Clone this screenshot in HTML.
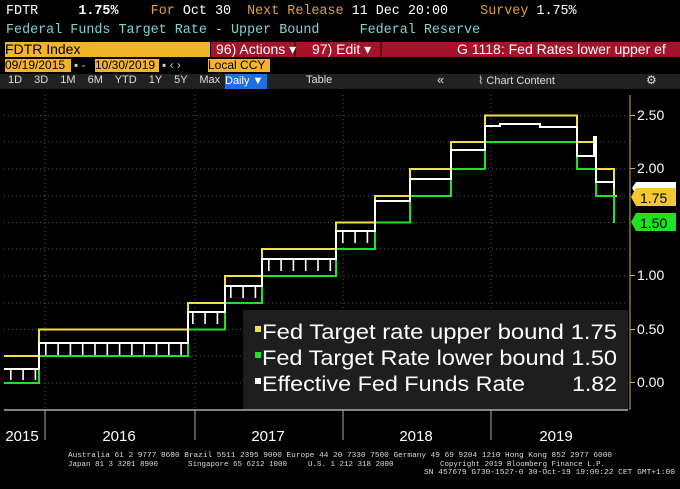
<!DOCTYPE html>
<html><head><meta charset="utf-8"><style>
body{margin:0;background:#000;width:680px;height:489px;overflow:hidden;position:relative;font-family:"Liberation Sans",sans-serif}
.m{font-family:"Liberation Mono",monospace;font-size:13.4px;position:absolute;white-space:pre}
.a{position:absolute;white-space:nowrap}
</style></head><body>
<div class="m" style="left:6px;top:4px;color:#fff">FDTR     <b>1.75%</b>    <span style="color:#e0a040">For</span> Oct 30  <span style="color:#e0a040">Next Release</span> 11 Dec 20:00    <span style="color:#e0a040">Survey</span> 1.75%</div>
<div class="m" style="left:6px;top:23px;color:#7fd4d4">Federal Funds Target Rate - Upper Bound     Federal Reserve</div>
<div class="a" style="left:5px;top:42px;width:205px;height:15px;background:#f2b429;color:#000;font-size:14px;line-height:15px">FDTR Index</div>
<div class="a" style="left:211px;top:42px;width:469px;height:15px;background:#a5122a"></div>
<div class="a" style="left:294px;top:42px;width:2px;height:15px;background:#600"></div>
<div class="a" style="left:380px;top:42px;width:2px;height:15px;background:#600"></div>
<div class="a" style="left:216px;top:41px;color:#fff;font-size:14px">96) Actions ▾</div>
<div class="a" style="left:312px;top:41px;color:#fff;font-size:14px">97) Edit ▾</div>
<div class="a" style="left:457px;top:41px;color:#fff;font-size:14px">G 1118: Fed Rates lower upper ef</div>
<div class="a" style="left:5px;top:59px;width:66px;height:13px;background:#f2b429;color:#000;font-size:12px;line-height:13px">09/19/2015</div>
<div class="a" style="left:95px;top:59px;width:64px;height:13px;background:#f2b429;color:#000;font-size:12px;line-height:13px">10/30/2019</div>
<div class="a" style="left:74px;top:58px;color:#ccc;font-size:12px">▪ -</div>
<div class="a" style="left:162px;top:58px;color:#ccc;font-size:12px">▪ ‹ ›</div>
<div class="a" style="left:208px;top:59px;width:62px;height:13px;background:#f2b429;color:#000;font-size:12px;line-height:13px">Local CCY</div>
<div class="a" style="left:0;top:74px;width:680px;height:15px;background:#222"></div>
<div class="a" style="left:8px;top:74px;color:#ddd;font-size:11px;word-spacing:9px">1D 3D 1M 6M YTD 1Y 5Y Max</div>
<div class="a" style="left:225px;top:74px;width:42px;height:15px;background:#1d6fe0;color:#fff;font-size:11px;line-height:15px">Daily ▼</div>
<div class="a" style="left:306px;top:74px;color:#ddd;font-size:11px">Table</div>
<div class="a" style="left:437px;top:72px;color:#ddd;font-size:13px">«</div>
<div class="a" style="left:478px;top:74px;color:#ddd;font-size:11px">⌇ Chart Content</div>
<div class="a" style="left:646px;top:73px;color:#ddd;font-size:12px">⚙</div>
<svg width="680" height="489" style="position:absolute;left:0;top:0">
<g stroke="#555" stroke-dasharray="1 3" stroke-width="1">
<line x1="4" x2="628" y1="115.5" y2="115.5"/><line x1="4" x2="628" y1="142" y2="142"/><line x1="4" x2="628" y1="169" y2="169"/><line x1="4" x2="628" y1="196" y2="196"/><line x1="4" x2="628" y1="222.5" y2="222.5"/><line x1="4" x2="628" y1="249" y2="249"/><line x1="4" x2="628" y1="276" y2="276"/><line x1="4" x2="628" y1="303" y2="303"/><line x1="4" x2="628" y1="329.5" y2="329.5"/><line x1="4" x2="628" y1="356" y2="356"/><line x1="4" x2="628" y1="383" y2="383"/>
<line x1="45" x2="45" y1="95" y2="410"/><line x1="195" x2="195" y1="95" y2="410"/><line x1="343" x2="343" y1="95" y2="410"/><line x1="491" x2="491" y1="95" y2="410"/>
</g>
<rect x="243" y="310" width="385" height="100" fill="#1e1e1e"/>
<path d="M4,356H39V329.5H188V303H225V276H262V249H336V222.5H375V196H410V169H451V142H485V115.5H577V142H596V169H614V196H617" fill="none" stroke="#f0e04a" stroke-width="2"/>
<path d="M4,383H39V356H188V329.5H225V303H262V276H336V249H375V222.5H410V196H451V169H485V142H577V169H596V196H614V223" fill="none" stroke="#22e022" stroke-width="2"/>
<g stroke="#fff" fill="none">
<path d="M4,369H39V343H188V312H225V286H262V259H336V231H375V201H410V179H451V150H485V126H500V124H540V127H577V156H594V137H596V182H614V188" stroke-width="2"/>
<g stroke-width="12" stroke-dasharray="1.6 10.7">
<path d="M10,374H39"/><path d="M45,349H188"/><path d="M192,318H225"/><path d="M230,292H262"/><path d="M268,265H336"/><path d="M342,237H375"/>
</g>
</g>
<line x1="630" y1="95" x2="630" y2="410" stroke="#c8b84a" stroke-width="1"/>
<line x1="4" y1="410" x2="628" y2="410" stroke="#aaa" stroke-width="1.5"/>
<g stroke="#aaa"><line x1="45" x2="45" y1="410" y2="440"/><line x1="195" x2="195" y1="410" y2="440"/><line x1="343" x2="343" y1="410" y2="440"/><line x1="491" x2="491" y1="410" y2="440"/></g>
<g fill="#fff" font-family="Liberation Sans" font-size="14">
<text x="637" y="120">2.50</text><text x="637" y="173">2.00</text><text x="637" y="280">1.00</text><text x="637" y="334">0.50</text><text x="637" y="387">0.00</text>
</g>
<g fill="#c8b84a"><rect x="630" y="115" width="5" height="1"/><rect x="630" y="168" width="5" height="1"/><rect x="630" y="275" width="5" height="1"/><rect x="630" y="329" width="5" height="1"/><rect x="630" y="382" width="5" height="1"/></g>
<path d="M636,182H676V194H636L632,188Z" fill="#fff"/>
<path d="M636,188H676V206H636L631,197Z" fill="#f2c830"/>
<text x="640" y="203" font-size="14" fill="#000" font-family="Liberation Sans">1.75</text>
<path d="M636,213H676V231H636L631,222Z" fill="#22e022"/>
<text x="640" y="228" font-size="14" fill="#000" font-family="Liberation Sans">1.50</text>
<g fill="#fff" font-family="Liberation Sans" font-size="21">
<rect x="255" y="326" width="6" height="6" fill="#f0e04a"/><text x="262" y="339" textLength="355" lengthAdjust="spacingAndGlyphs">Fed Target rate upper bound 1.75</text>
<rect x="255" y="352" width="6" height="6" fill="#22e022"/><text x="262" y="365" textLength="355" lengthAdjust="spacingAndGlyphs">Fed Target Rate lower bound 1.50</text>
<rect x="255" y="378" width="6" height="6" fill="#fff"/><text x="262" y="391" textLength="263" lengthAdjust="spacingAndGlyphs">Effective Fed Funds Rate</text><text x="572" y="391" textLength="45" lengthAdjust="spacingAndGlyphs">1.82</text>
</g>
<g fill="#fff" font-family="Liberation Sans" font-size="15" text-anchor="middle">
<text x="22" y="441">2015</text><text x="119" y="441">2016</text><text x="268" y="441">2017</text><text x="416" y="441">2018</text><text x="556" y="441">2019</text>
</g>
<g fill="#ddd" font-family="Liberation Mono" font-size="7.5">
<text x="68" y="457" textLength="544" lengthAdjust="spacingAndGlyphs">Australia 61 2 9777 8600 Brazil 5511 2395 9000 Europe 44 20 7330 7500 Germany 49 69 9204 1210 Hong Kong 852 2977 6000</text>
<text x="68" y="466">Japan 81 3 3201 8900</text><text x="188" y="466">Singapore 65 6212 1000</text><text x="308" y="466">U.S. 1 212 318 2000</text><text x="440" y="466" textLength="165" lengthAdjust="spacingAndGlyphs">Copyright 2019 Bloomberg Finance L.P.</text>
<text x="424" y="474" textLength="251" lengthAdjust="spacingAndGlyphs">SN 457679 G730-1527-0 30-Oct-19 19:00:22 CET  GMT+1:00</text>
</g>
</svg>
</body></html>
